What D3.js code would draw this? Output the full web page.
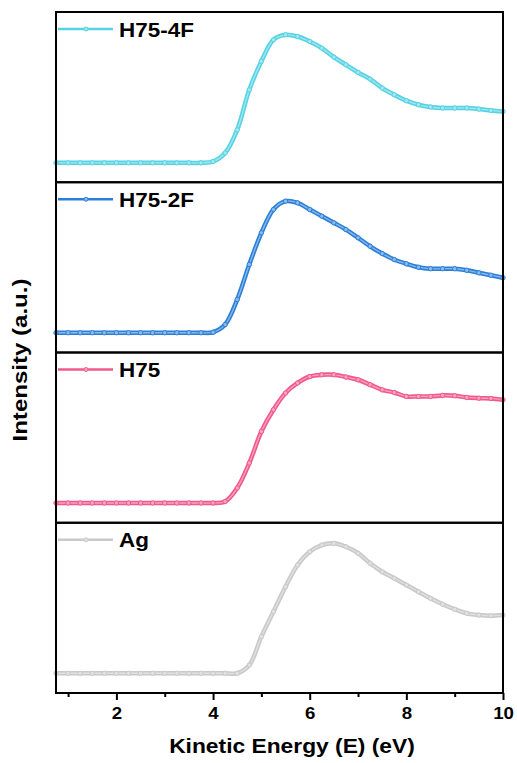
<!DOCTYPE html>
<html>
<head>
<meta charset="utf-8">
<script src="https://cdn.jsdelivr.net/npm/d3@7"></script>
<style>
  body { margin: 0; background: #fff; }
  text { font-family: "Liberation Sans", Arial, sans-serif; font-weight: bold; fill: #000; }
</style>
</head>
<body>
<div id="chart"></div>
<script>
// kinetic energy (eV), shared by all four spectra
let energy = [0.75, 1, 1.25, 1.5, 1.75, 2, 2.25, 2.5, 2.75, 3, 3.25, 3.5, 3.75, 4, 4.25, 4.5, 4.75, 5, 5.25,
  5.5, 5.75, 6, 6.25, 6.5, 6.75, 7, 7.25, 7.5, 7.75, 8, 8.25, 8.5, 8.75, 9, 9.25, 9.5, 9.75, 10];

// intensities (a.u.)
let h75_4f = [0.114, 0.114, 0.114, 0.114, 0.114, 0.114, 0.114, 0.114, 0.114, 0.114, 0.114, 0.114, 0.114,
  0.122, 0.172, 0.308, 0.543, 0.710, 0.837, 0.866, 0.856, 0.827, 0.788, 0.735, 0.690, 0.645, 0.606,
  0.553, 0.514, 0.479, 0.455, 0.442, 0.436, 0.436, 0.436, 0.430, 0.422, 0.416];
let h75_2f = [0.116, 0.116, 0.116, 0.116, 0.116, 0.116, 0.116, 0.116, 0.116, 0.116, 0.116, 0.116, 0.116,
  0.119, 0.164, 0.311, 0.517, 0.703, 0.840, 0.889, 0.879, 0.840, 0.801, 0.762, 0.722, 0.674, 0.624,
  0.581, 0.546, 0.521, 0.501, 0.492, 0.492, 0.492, 0.483, 0.468, 0.454, 0.439];
let h75 = [0.116, 0.116, 0.116, 0.116, 0.116, 0.116, 0.116, 0.116, 0.116, 0.116, 0.116, 0.116, 0.116, 0.116,
  0.125, 0.204, 0.351, 0.536, 0.664, 0.762, 0.821, 0.859, 0.869, 0.869, 0.856, 0.840, 0.811,
  0.781, 0.765, 0.742, 0.742, 0.742, 0.748, 0.746, 0.736, 0.732, 0.730, 0.722];
let ag = [0.116, 0.116, 0.116, 0.116, 0.116, 0.116, 0.116, 0.116, 0.116, 0.116, 0.116, 0.116, 0.116, 0.116,
  0.116, 0.116, 0.164, 0.331, 0.478, 0.624, 0.752, 0.830, 0.869, 0.879, 0.859, 0.821, 0.762,
  0.712, 0.674, 0.634, 0.595, 0.556, 0.521, 0.492, 0.468, 0.458, 0.454, 0.458];

let names = ["H75-4F", "H75-2F", "H75", "Ag"];
let seriesValues = [h75_4f, h75_2f, h75, ag];
let colors = ["#55d3e3", "#2b7fd8", "#f2588b", "#c9c9c9"];
let xTicks = [2, 4, 6, 8, 10];
let xMinorTicks = [1, 3, 5, 7, 9];

let W = 517, H = 763;
let margin = {top: 12, right: 14, bottom: 70, left: 56};
let width = W - margin.left - margin.right;
let height = H - margin.top - margin.bottom;
let panelH = height / names.length;

let svg = d3.select("#chart").append("svg")
  .attr("width", W).attr("height", H);
let g = svg.append("g").attr("transform", "translate(" + margin.left + "," + margin.top + ")");

let x = d3.scaleLinear().domain([0.75, 10]).range([0, width]);
let y = d3.scaleLinear().domain([0, 1]).range([panelH, 0]);

names.forEach(function(name, i) {
  let panel = g.append("g").attr("transform", "translate(0," + (i * panelH) + ")");
  let color = colors[i];
  let light = d3.interpolateRgb(color, "#ffffff")(0.45);
  let data = energy.map(function(e, k) { return [e, seriesValues[i][k]]; });
  let line = d3.line()
    .x(function(d) { return x(d[0]); })
    .y(function(d) { return y(d[1]); })
    .curve(d3.curveCatmullRom.alpha(0.5));
  panel.append("path").datum(data)
    .attr("fill", "none").attr("stroke", color).attr("stroke-width", 4.5)
    .attr("d", line);
  panel.append("path").datum(data)
    .attr("fill", "none").attr("stroke", light).attr("stroke-width", 1.3)
    .attr("d", line);
  panel.selectAll("circle.pt").data(data).enter().append("circle")
    .attr("class", "pt")
    .attr("cx", function(d) { return x(d[0]); })
    .attr("cy", function(d) { return y(d[1]); })
    .attr("r", 2.2)
    .attr("fill", light).attr("stroke", color).attr("stroke-width", 1);

  // legend
  panel.append("line")
    .attr("x1", 2).attr("x2", 57).attr("y1", 17).attr("y2", 17)
    .attr("stroke", color).attr("stroke-width", 2.5);
  panel.append("circle")
    .attr("cx", 30).attr("cy", 17).attr("r", 2)
    .attr("fill", light).attr("stroke", color).attr("stroke-width", 1);
  panel.append("g").attr("transform", "translate(63,24.5) scale(1.07,1)")
    .append("text").attr("font-size", 21).text(name);

  // frame
  panel.append("rect")
    .attr("width", width).attr("height", panelH)
    .attr("fill", "none").attr("stroke", "#000").attr("stroke-width", 2);
});

// x axis on the bottom panel
let xAxis = g.append("g").attr("transform", "translate(0," + height + ")")
  .call(d3.axisBottom(x).tickValues(xTicks).tickFormat(d3.format("d")).tickSize(7).tickPadding(7));
xAxis.select(".domain").remove();
xAxis.selectAll("line").attr("stroke", "#000").attr("stroke-width", 2);
xAxis.selectAll("text").attr("font-size", 16.5).attr("font-family", null)
  .attr("transform", "scale(1.13,1)");
g.append("g").attr("transform", "translate(0," + height + ")")
  .call(d3.axisBottom(x).tickValues(xMinorTicks).tickFormat("").tickSize(4))
  .call(function(a) {
    a.select(".domain").remove();
    a.selectAll("line").attr("stroke", "#000").attr("stroke-width", 2);
  });

// axis titles
svg.append("g").attr("transform", "translate(292,753) scale(1.14,1)")
  .append("text").attr("text-anchor", "middle").attr("font-size", 20)
  .text("Kinetic Energy (E) (eV)");
svg.append("g").attr("transform", "translate(27,360) rotate(-90)")
  .append("text").attr("text-anchor", "middle").attr("font-size", 20)
  .attr("textLength", 163).attr("lengthAdjust", "spacingAndGlyphs")
  .text("Intensity (a.u.)");
</script>
</body>
</html>
